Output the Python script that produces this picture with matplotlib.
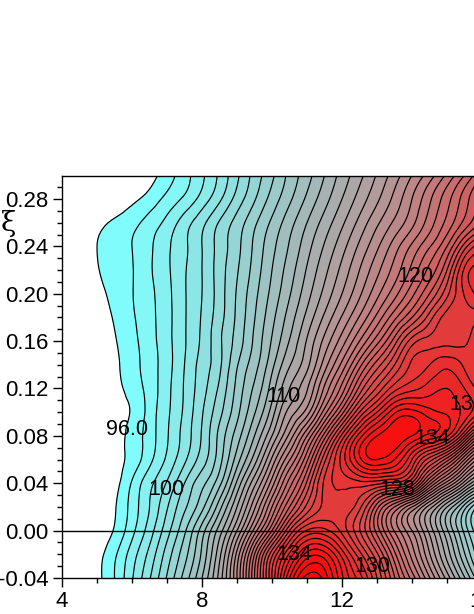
import numpy as np
import matplotlib.pyplot as plt
import matplotlib.tri as mtri
from matplotlib.colors import LinearSegmentedColormap
from matplotlib.ticker import MultipleLocator

plt.rcParams['font.family'] = ['Liberation Sans', 'DejaVu Sans']

# Grid
x_vals = [4.5, 5, 5.5, 6, 6.5, 7, 7.5, 8, 8.5, 9, 9.5, 10, 10.5, 11, 11.5, 12, 12.5, 13, 13.5, 14, 14.5, 15, 15.5, 16]
y_vals = [-0.04, -0.02, 0.00, 0.02, 0.04, 0.06, 0.08, 0.10, 0.12, 0.14, 0.16, 0.18, 0.20, 0.22, 0.24, 0.26, 0.28, 0.30]

row_m04 = [94.8, 95.7, 97, 98.9, 100.9, 103.1, 105.4, 108, 111.4, 116, 122, 128, 134, 137.4, 136.6, 133.2, 130.5, 127, 123.1, 119.6, 116.1, 112.6, 109.1, 105.6]
row_m02 = [94.7, 95.6, 96.8, 98.5, 100.3, 102.45, 104.6, 107.2, 110.7, 115.3, 121, 126.7, 131.2, 134.4, 134.4, 131.6, 128.4, 125.2, 121.3, 117.6, 114.1, 110.6, 107.1, 103.6]
row_00 = [94.3, 95.2, 96.1, 97.7, 99.5, 101.6, 103.8, 106.5, 109.5, 113, 117.4, 122, 127, 130.1, 130.3, 128.7, 126.1, 122.6, 118.9, 116, 112.7, 109.2, 105.7, 102.5]
row_02 = [94, 95, 95.9, 97.4, 99, 100.9, 102.8, 104.7, 107.6, 111, 114.8, 119, 123, 126.3, 128.3, 128.6, 127.3, 123.4, 120, 117, 113.5, 110, 106.5, 103]
row_04 = [93.8, 94.7, 95.6, 97.1, 98.7, 100.1, 102, 103.7, 105.7, 109.2, 112.7, 116.5, 120.5, 124.2, 128.2, 129.3, 129.6, 129.3, 128.7, 126.8, 121.5, 117.5, 113.5, 110]
row_06 = [93.7, 94.6, 95.5, 96.4, 97.7, 99.2, 100.8, 102.5, 104.6, 107.5, 110.5, 114.2, 117.9, 121.8, 126.7, 130.4, 133.7, 135, 134, 131, 127.5, 124.5, 120, 116]
row_08 = [93.7, 94.6, 95.5, 96.35, 97.5, 98.9, 100.4, 102.1, 104.3, 106.5, 109, 112, 115.3, 119, 123.5, 128.3, 132.5, 135, 135.8, 135, 133.7, 132.2, 127.8, 122.5]
row_10 = [93.7, 94.6, 95.5, 96.1, 97.4, 98.8, 100.2, 101.9, 103.7, 105.7, 107.9, 110.5, 113.4, 115.5, 119.5, 123.6, 128, 131, 133.8, 134.4, 133.4, 132.8, 131.7, 129.7]
row_12 = [93.8, 94.7, 95.6, 96.4, 97.4, 98.7, 100.1, 101.6, 103.2, 105.3, 107.2, 109.5, 112, 113.9, 117.2, 120.4, 124.3, 127.2, 129.6, 130.7, 131.5, 132, 131, 129.5]
row_14 = [94, 94.9, 95.75, 96.6, 97.5, 98.6, 100, 101.4, 102.8, 104.9, 106.6, 108.7, 110.9, 112.7, 115.5, 118.3, 121.6, 124.5, 127, 129.2, 130, 130.7, 129.8, 129]
row_16 = [94, 95, 95.9, 96.7, 97.6, 98.65, 99.9, 101.2, 102.8, 104.4, 106.2, 108.1, 110.05, 112.1, 114.3, 116.5, 119, 121.6, 124.5, 127.5, 128.4, 128.7, 128.8, 130.5]
row_18 = [94.5, 95.3, 96.1, 96.85, 97.7, 98.65, 99.9, 101.1, 102.6, 104.2, 105.95, 107.7, 109.45, 111.3, 113.2, 115.1, 117.1, 119.3, 121.7, 124, 126.5, 128.4, 128.6, 128.9]
row_20 = [94.7, 95.6, 96.3, 96.95, 97.75, 98.7, 99.9, 101, 102.5, 104.1, 105.7, 107.3, 108.9, 110.6, 112.3, 114, 115.8, 117.7, 119.6, 121.7, 124, 126.7, 129.1, 130.5]
row_22 = [95, 95.9, 96.5, 96.95, 97.85, 98.8, 99.9, 101, 102.5, 103.9, 105.4, 107, 108.5, 110.1, 111.7, 113.3, 115, 116.7, 118.4, 120.3, 122.3, 125, 129.2, 130.5]
row_24 = [95.2, 96, 96.5, 97, 97.8, 98.8, 99.8, 101, 102.4, 103.7, 105.2, 106.7, 108.1, 109.6, 111.1, 112.6, 114.2, 115.8, 117.5, 119.2, 120.9, 123, 126.5, 129]
row_26 = [94.5, 95.5, 96.2, 96.7, 97.4, 98.3, 99.5, 100.7, 102.1, 103.4, 104.8, 106.2, 107.6, 109, 110.4, 111.8, 113.3, 114.8, 116.2, 117.7, 119.5, 121.3, 123.3, 125.3]
row_28 = [93, 94, 94.9, 95.7, 96.4, 97.3, 98.2, 99.4, 100.8, 102.4, 103.9, 105.4, 106.8, 108.2, 109.6, 111, 112.4, 113.8, 115.3, 117, 118.8, 120.6, 122.5, 124.5]
row_30 = [92.4, 93.2, 94, 94.8, 95.6, 96.5, 97.6, 98.8, 100.2, 101.8, 103.4, 104.8, 106.3, 107.6, 109, 110.4, 111.7, 113.1, 114.5, 116, 117.5, 119.2, 121, 123]

z_vals = [row_m04, row_m02, row_00, row_02, row_04, row_06, row_08, row_10, row_12,
          row_14, row_16, row_18, row_20, row_22, row_24, row_26, row_28, row_30]

levels = list(range(96, 139))

# Contour labels
label_text = ['96.0', '100', '110', '120', '128', '130', '134', '134', '130']
label_x = [5.86, 6.97, 10.34, 14.09, 13.57, 12.87, 10.63, 14.57, 15.57]
label_y = [0.085, 0.0346, 0.1131, 0.2143, 0.0346, -0.0304, -0.0203, 0.0776, 0.1065]

cmap = LinearSegmentedColormap.from_list(
    'cyan_gray_red',
    [(0.0, (128/255, 1, 1)), (15/42, (170/255, 170/255, 170/255)), (1.0, (1, 0, 0))])

fig = plt.figure(figsize=(4.74, 6.14), dpi=100)
# axes run past the right edge of the picture, like the reference
ax = fig.add_axes([62/474, 36/614, 455/474, 402/614])

# rounder contour lines than the raw grid gives
xg, yg = np.meshgrid(x_vals, y_vals)
tri = mtri.Triangulation(xg.ravel(), yg.ravel())
refiner = mtri.UniformTriRefiner(tri)
tri_fine, z_fine = refiner.refine_field(np.array(z_vals).ravel(), subdiv=3)

ax.tricontourf(tri_fine, z_fine, levels=levels, cmap=cmap, vmin=96, vmax=138)
ax.tricontour(tri_fine, z_fine, levels=levels, colors='black', linewidths=0.85, linestyles='solid')
ax.axhline(0, color='black', linewidth=1.0)

for text, lx, ly in zip(label_text, label_x, label_y):
    ax.text(lx, ly, text, fontsize=15.5, ha='center', va='center', color='black')

ax.set_xlim(4, 17)
ax.set_ylim(-0.04, 0.2994)
ax.set_xticks([4, 8, 12, 16])
ax.xaxis.set_minor_locator(MultipleLocator(1))
ax.set_yticks([-0.04, 0.00, 0.04, 0.08, 0.12, 0.16, 0.20, 0.24, 0.28])
ax.set_yticklabels(['-0.04', '0.00', '0.04', '0.08', '0.12', '0.16', '0.20', '0.24', '0.28'])
ax.yaxis.set_minor_locator(MultipleLocator(0.01))
ax.tick_params(axis='both', which='major', length=6.5, width=1, labelsize=16, pad=3)
ax.tick_params(axis='both', which='minor', length=3.6, width=1)
ax.spines['right'].set_visible(False)
for side in ['left', 'bottom', 'top']:
    ax.spines[side].set_linewidth(1.0)

fig.text(9/474, 1 - 224/614, '\u03be', fontsize=20, family='DejaVu Serif', ha='center', va='center')

plt.savefig('out.png', dpi=100)
